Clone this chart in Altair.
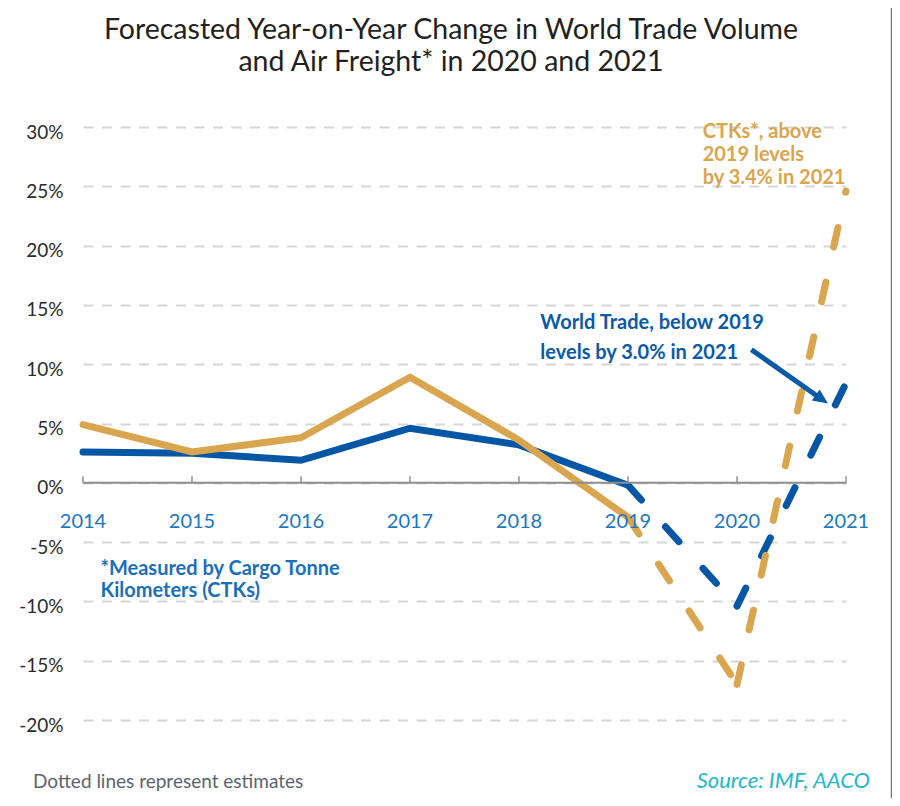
import altair as alt
import pandas as pd

# ---- data ----
years = [2014, 2015, 2016, 2017, 2018, 2019, 2020, 2021]
world_trade = [2.6, 2.5, 1.9, 4.6, 3.2, -0.2, -10.4, 8.4]
ctks = [4.9, 2.6, 3.8, 8.9, 3.6, -2.9, -17.0, 24.6]
last_actual_year = 2019
y_ticks = [-20, -15, -10, -5, 0, 5, 10, 15, 20, 25, 30]

title_lines = ["Forecasted Year-on-Year Change in World Trade Volume",
               "and Air Freight* in 2020 and 2021"]
ctk_note = ["CTKs*, above", "2019 levels", "by 3.4% in 2021"]
trade_note = ["World Trade, below 2019", "levels by 3.0% in 2021"]
measure_note = ["*Measured by Cargo Tonne", "Kilometers (CTKs)"]
footer_left = "Dotted lines represent estimates"
footer_right = "Source: IMF, AACO"

BLUE = "#0557a6"
GOLD = "#d9a54f"
LABEL_BLUE = "#1a78c2"
NOTE_BLUE = "#0a5aa8"
TEAL = "#1fb8cc"
FONT = "Lato"

# solid part (actual) and dashed part (estimates, one piece per year-to-year step)
rows = []
for name, vals in [("World Trade", world_trade), ("CTKs", ctks)]:
    for y, v in zip(years, vals):
        if y <= last_actual_year:
            rows.append({"series": name, "part": "actual", "piece": "a", "year": y, "value": v})
    for i in range(len(years) - 1):
        if years[i] >= last_actual_year:
            for j in (i, i + 1):
                rows.append({"series": name, "part": "estimate", "piece": str(years[i]),
                             "year": years[j], "value": vals[j]})
df = pd.DataFrame(rows)
year_df = pd.DataFrame({"year": years, "label": [str(y) for y in years],
                        "value": [0] * len(years)})
span_df = pd.DataFrame({"year": [years[0]], "year2": [years[-1]], "value": [0]})

W, H = 763, 593
xscale = alt.Scale(domain=[years[0], years[-1]], nice=False, zero=False)
yscale = alt.Scale(domain=[-20, 30], nice=False)

yaxis = alt.Axis(values=y_ticks, labelExpr="datum.value + '%'", grid=True,
                 gridDash=[10, 8.5], gridColor="#d6d6d6", gridWidth=2,
                 domain=False, ticks=False, labelPadding=20, labelFontSize=19,
                 labelOffset=5, labelColor="#2b2b2b", labelFont=FONT, title=None)

X = alt.X("year:Q", scale=xscale, axis=None)
Y = alt.Y("value:Q", scale=yscale, axis=yaxis)

def seg(series, part, color):
    kw = dict(color=color, strokeWidth=7, strokeCap="round")
    if part == "estimate":
        kw["strokeDash"] = [20, 36]
    sub = df[(df.series == series) & (df.part == part)]
    return alt.Chart(sub).mark_line(**kw).encode(x=X, y=Y, detail="piece:N")

# x axis line, ticks and labels, drawn at y = 0
axis_line = alt.Chart(span_df).mark_rule(color="#8c8c8c", strokeWidth=2).encode(
    x=X, x2="year2:Q", y=Y)
axis_ticks = alt.Chart(year_df).mark_tick(color="#8c8c8c", orient="vertical",
                                          size=7, thickness=2, yOffset=-3).encode(x=X, y=Y)
axis_labels = alt.Chart(year_df).mark_text(color=LABEL_BLUE, fontSize=20, font=FONT,
                                           dy=39, baseline="middle").encode(
    x=X, y=Y, text="label:N")

def note(lines, x, y, color, size, weight="bold", align="left", lh=23):
    d = pd.DataFrame({"t": ["\n".join(lines)], "year": [x], "value": [y]})
    return alt.Chart(d).mark_text(
        align=align, baseline="alphabetic", lineBreak="\n", color=color, fontSize=size,
        fontWeight=weight, font=FONT, lineHeight=lh).encode(x=X, y=Y, text="t:N")

def free_text(lines, px, py, color, size, align="left", style="normal", weight="normal", lh=32):
    d = pd.DataFrame({"t": ["\n".join(lines)]})
    return alt.Chart(d).mark_text(
        align=align, baseline="alphabetic", lineBreak="\n", color=color, fontSize=size,
        font=FONT, fontStyle=style, fontWeight=weight, lineHeight=lh).encode(
        x=alt.value(px), y=alt.value(py), text="t:N")

title_text = free_text(title_lines, 368, -88, "#231f20", 28.5, align="center", lh=32)
ctk_text = note(ctk_note, 2019.685, 29.07, GOLD, 20, lh=23)
trade_text = note(trade_note, 2018.196, 13.0, NOTE_BLUE, 20, lh=30)
measure_text = note(measure_note, 2014.16, -7.77, "#1a6fbb", 20, lh=22)
left_foot = free_text([footer_left], -50, 661, "#5a6470", 19)
right_foot = free_text([footer_right], 787, 661, TEAL, 22, align="right", style="italic")

arrow_df = pd.DataFrame({"year": [2020.132, 2020.745], "value": [11.23, 7.26]})
arrow_shaft = alt.Chart(arrow_df).mark_line(color=NOTE_BLUE, strokeWidth=5).encode(x=X, y=Y)
arrow_head = alt.Chart(pd.DataFrame({"year": [2020.835], "value": [6.68]})).mark_point(
    shape="M0,0L-2,-0.9L-2,0.9Z", size=225, filled=True, opacity=1,
    color=NOTE_BLUE, angle=35.2).encode(x=X, y=Y)

border = alt.Chart(span_df).mark_rule(color="#6b7785", strokeWidth=1.5).encode(
    x=alt.value(808.5), y=alt.value(-119), y2=alt.value(672))

chart = alt.layer(
    seg("World Trade", "actual", BLUE),
    seg("World Trade", "estimate", BLUE),
    seg("CTKs", "actual", GOLD),
    seg("CTKs", "estimate", GOLD),
    axis_line, axis_ticks, axis_labels,
    ctk_text, trade_text, measure_text, arrow_shaft, arrow_head,
    title_text, left_foot, right_foot, border,
).properties(
    width=W, height=H,
    autosize=alt.AutoSizeParams(type="none"),
    padding={"left": 75, "top": 119, "right": 46, "bottom": 78},
).configure_view(stroke=None)

chart.save("out.html", embed_options={"renderer": "svg", "actions": False})
